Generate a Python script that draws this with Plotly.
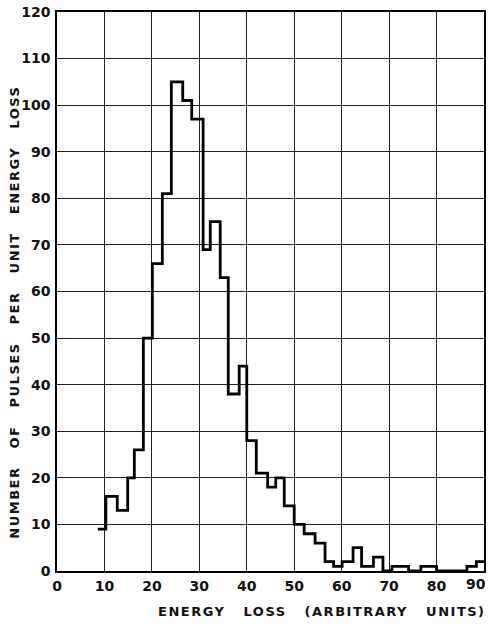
import plotly.graph_objects as go

# Bin edges (energy loss, arbitrary units) and counts
bin_edges = [8.6, 10.3, 12.7, 14.9, 16.3, 18.2, 20.1, 22.2, 24.1, 26.5,
             28.4, 30.8, 32.3, 34.4, 36.1, 38.4, 40.0, 42.0, 44.4, 46.1,
             47.9, 50.0, 52.1, 54.4, 56.5, 58.3, 60.1, 62.4, 64.2, 66.7,
             68.7, 70.6, 74.1, 76.7, 80.0, 86.4, 88.4, 90.0]
counts = [9, 16, 13, 20, 26, 50, 66, 81, 105, 101,
          97, 69, 75, 63, 38, 44, 28, 21, 18, 20,
          14, 10, 8, 6, 2, 1, 2, 5, 1, 3,
          0, 1, 0, 1, 0, 1, 2]

x_ticks = [0, 10, 20, 30, 40, 50, 60, 70, 80, 90]
y_ticks = [0, 10, 20, 30, 40, 50, 60, 70, 80, 90, 100, 110, 120]

x_title = "ENERGY   LOSS   (ARBITRARY   UNITS)"
y_title = "NUMBER   OF   PULSES   PER   UNIT   ENERGY   LOSS"

FONT = "DejaVu Sans"
TICKFONT = dict(family=FONT, size=14, color="#111111")

fig = go.Figure()
fig.add_trace(go.Scatter(
    x=bin_edges,
    y=counts + [counts[-1]],
    mode="lines",
    line=dict(color="black", width=2.8, shape="hv"),
    hoverinfo="skip",
    showlegend=False,
))

axis_common = dict(
    showgrid=True, gridcolor="#222222", gridwidth=1.1,
    showline=True, linecolor="black", linewidth=1.6, mirror=True,
    zeroline=False, ticks="",
    tickfont=TICKFONT,
    automargin=False,
)

# last x tick label is drawn separately so it can sit flush with the page edge
x_ticktext = [f"<b>{t}</b>" for t in x_ticks[:-1]] + [""]

fig.update_xaxes(range=[0, 90], tickvals=x_ticks, ticktext=x_ticktext,
                 ticklabelstandoff=1, **axis_common)
fig.update_yaxes(range=[0, 120], tickvals=y_ticks, ticktext=[f"<b>{t}</b>" for t in y_ticks],
                 ticklabelstandoff=2, **axis_common)

fig.add_annotation(
    text=f"<b>{x_ticks[-1]}</b>", xref="x", yref="y", x=x_ticks[-1], y=0,
    xanchor="right", yanchor="top", xshift=4, yshift=-3, showarrow=False,
    font=TICKFONT,
)

fig.add_annotation(
    text=f"<b><span style='letter-spacing:1.5px'>{x_title}</span></b>",
    xref="paper", yref="paper", x=(322 - 57) / 427, y=-(612 - 571.5) / 559.5,
    xanchor="center", yanchor="middle", showarrow=False,
    font=dict(family=FONT, size=13, color="#111111"),
)
fig.add_annotation(
    text=f"<b><span style='letter-spacing:1.5px'>{y_title}</span></b>",
    xref="paper", yref="paper", x=-(57 - 15) / 427, y=(571.5 - 313) / 559.5,
    xanchor="center", yanchor="middle", showarrow=False, textangle=-90,
    font=dict(family=FONT, size=13, color="#111111"),
)

fig.update_layout(
    width=490, height=624,
    margin=dict(l=57, r=6, t=12, b=52.5),
    paper_bgcolor="white", plot_bgcolor="white",
    showlegend=False,
)

fig.write_html("out.html")
